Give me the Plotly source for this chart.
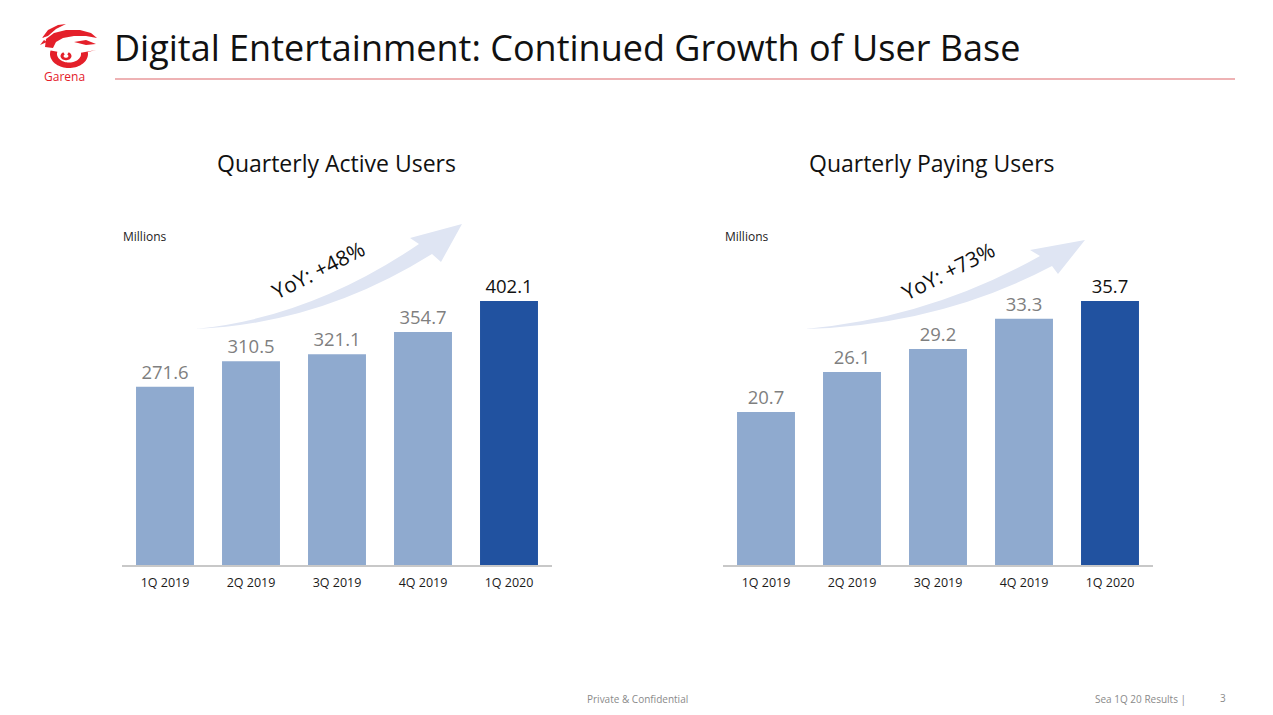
import numpy as np
import plotly.graph_objects as go

W, H = 1273, 715
OFF = 8  # page body margin
FW, FH = W - OFF, H - OFF

quarters = ["1Q 2019", "2Q 2019", "3Q 2019", "4Q 2019", "1Q 2020"]
active_users = [271.6, 310.5, 321.1, 354.7, 402.1]
paying_users = [20.7, 26.1, 29.2, 33.3, 35.7]
yoy_active = "YoY: +48%"
yoy_paying = "YoY: +73%"

LIGHT = "#8faacf"
DARK = "#2152a0"
RED = "#e4202a"
FONT = "Open Sans, Lato, sans-serif"


def px(x):
    return (x - OFF) / FW


def py(y):
    return 1 - (y - OFF) / FH


def pt(x, y):
    return f"{px(x):.5f},{py(y):.5f}"


def labels(vals):
    return [f"{v:.1f}" for v in vals]


def colors(vals):
    return [DARK if i == len(vals) - 1 else LIGHT for i in range(len(vals))]


def tcolors(vals):
    return ["#111111" if i == len(vals) - 1 else "#7f7f7f" for i in range(len(vals))]


fig = go.Figure()
fig.add_trace(go.Bar(x=quarters, y=active_users, xaxis="x", yaxis="y",
                     marker=dict(color=colors(active_users), line=dict(width=0)),
                     text=labels(active_users), textposition="outside",
                     textfont=dict(size=18.5, color=tcolors(active_users), family=FONT),
                     cliponaxis=False, hoverinfo="skip"))
fig.add_trace(go.Bar(x=quarters, y=paying_users, xaxis="x2", yaxis="y2",
                     marker=dict(color=colors(paying_users), line=dict(width=0)),
                     text=labels(paying_users), textposition="outside",
                     textfont=dict(size=18.5, color=tcolors(paying_users), family=FONT),
                     cliponaxis=False, hoverinfo="skip"))

ytop, ybot = 215, 565
scale = (ybot - ytop) / 264.0
axcommon = dict(showgrid=False, zeroline=False, showticklabels=False, fixedrange=True)
xcommon = dict(showgrid=False, showline=True, linecolor="#c8c8c8", linewidth=2,
               ticks="", ticklabelstandoff=5,
               tickfont=dict(size=12.5, color="#1a1a1a", family=FONT),
               fixedrange=True)

fig.update_layout(
    width=FW, height=FH, margin=dict(l=0, r=0, t=0, b=0),
    paper_bgcolor="white", plot_bgcolor="white",
    showlegend=False, bargap=0.326, font=dict(family=FONT),
    xaxis=dict(domain=[px(122), px(552)], anchor="y", **xcommon),
    yaxis=dict(domain=[py(ybot), py(ytop)], range=[0, active_users[-1] * scale], anchor="x", **axcommon),
    xaxis2=dict(domain=[px(723), px(1153)], anchor="y2", **xcommon),
    yaxis2=dict(domain=[py(ybot), py(ytop)], range=[0, paying_users[-1] * scale], anchor="x2", **axcommon),
)


def arrow_path(tail, c1, head_base_up, head_base_lo, c2, wing1, tip, wing2):
    return (f"M {pt(*tail)} Q {pt(*c1)} {pt(*head_base_up)} L {pt(*wing1)} L {pt(*tip)} "
            f"L {pt(*wing2)} L {pt(*head_base_lo)} Q {pt(*c2)} {pt(*tail)} Z")


def poly(points):
    return "M " + " L ".join(pt(x, y) for x, y in points) + " Z"


shapes = []
# title underline
shapes.append(dict(type="line", xref="paper", yref="paper", x0=px(115), x1=px(1235),
                   y0=py(79), y1=py(79), line=dict(color="#e8999b", width=1.5)))
# arrows
shapes.append(dict(type="path", xref="paper", yref="paper",
                   path=arrow_path((195, 329), (310, 318), (419, 244), (432, 254), (320, 324),
                                   (410, 238), (462, 224), (441, 262)),
                   fillcolor="#dfe5f3", line=dict(width=0), layer="below"))
shapes.append(dict(type="path", xref="paper", yref="paper",
                   path=arrow_path((805, 329), (930, 318), (1040, 256), (1052, 266), (940, 325),
                                   (1030, 250), (1085, 240), (1058, 274)),
                   fillcolor="#dfe5f3", line=dict(width=0), layer="below"))

# Garena logo (stylised dragon "G"); pixel coords, y downward
cx, cy = 69, 54
a_out = np.radians(np.linspace(195, -8, 40))
outer = [(cx + 19 * np.cos(a), cy + 14 * np.sin(a)) for a in a_out]
a_in = np.radians(np.linspace(-8, 195, 40))
inner = [(cx + 12 * np.cos(a), cy + 8.5 * np.sin(a)) for a in a_in]
ring = outer + [(96, 50)] + inner
shapes.append(dict(type="path", xref="paper", yref="paper", path=poly(ring),
                   fillcolor=RED, line=dict(width=0)))
# top swoosh band
top = [(45, 47), (46, 39), (54, 33), (66, 30), (80, 30), (91, 33), (97, 38),
       (86, 36), (74, 36), (63, 38), (56, 42), (53, 48)]
shapes.append(dict(type="path", xref="paper", yref="paper", path=poly(top),
                   fillcolor=RED, line=dict(width=0)))
# flame strokes
shapes.append(dict(type="path", xref="paper", yref="paper",
                   path=poly([(42, 38), (48, 30), (58, 25), (66, 24), (56, 29), (48, 36)]),
                   fillcolor=RED, line=dict(width=0)))
shapes.append(dict(type="path", xref="paper", yref="paper",
                   path=poly([(40, 45), (44, 40), (47, 42)]),
                   fillcolor=RED, line=dict(width=0)))
shapes.append(dict(type="path", xref="paper", yref="paper",
                   path=poly([(74, 42), (86, 40), (96, 44), (86, 45)]),
                   fillcolor=RED, line=dict(width=0)))
# inner swirl
sw = np.radians(np.linspace(-60, 240, 30))
swirl = [(66 + 5.5 * np.cos(a), 56 + 4.2 * np.sin(a)) for a in sw] + \
        [(66 + 2.4 * np.cos(a), 56 + 1.8 * np.sin(a)) for a in sw[::-1]]
shapes.append(dict(type="path", xref="paper", yref="paper", path=poly(swirl),
                   fillcolor=RED, line=dict(width=0)))

fig.update_layout(shapes=shapes)

ann = []


def A(x, y, text, size, color="#111111", xanchor="center", angle=0, family=FONT):
    ann.append(dict(x=px(x), y=py(y), xref="paper", yref="paper", text=text,
                    showarrow=False, xanchor=xanchor, yanchor="middle", textangle=angle,
                    font=dict(size=size, color=color, family=family)))


A(112, 47, "Digital Entertainment: Continued Growth of User Base", 36, "#111111", "left")
A(65, 76, "Garena", 12, RED)
A(336, 163, "Quarterly Active Users", 23)
A(932, 163, "Quarterly Paying Users", 23)
A(121, 237, "Millions", 12, "#222222", "left")
A(723, 237, "Millions", 12, "#222222", "left")
A(318, 270, yoy_active, 21, "#111111", angle=-27)
A(948, 271, yoy_paying, 21, "#111111", angle=-27)
A(637, 699, "Private &amp; Confidential", 10, "#8a8a8a")
A(1188, 699, "Sea 1Q 20 Results |", 10, "#8a8a8a", "right")
A(1223, 698, "3", 10, "#8a8a8a")

fig.update_layout(annotations=ann)

fig.write_html("out.html")
